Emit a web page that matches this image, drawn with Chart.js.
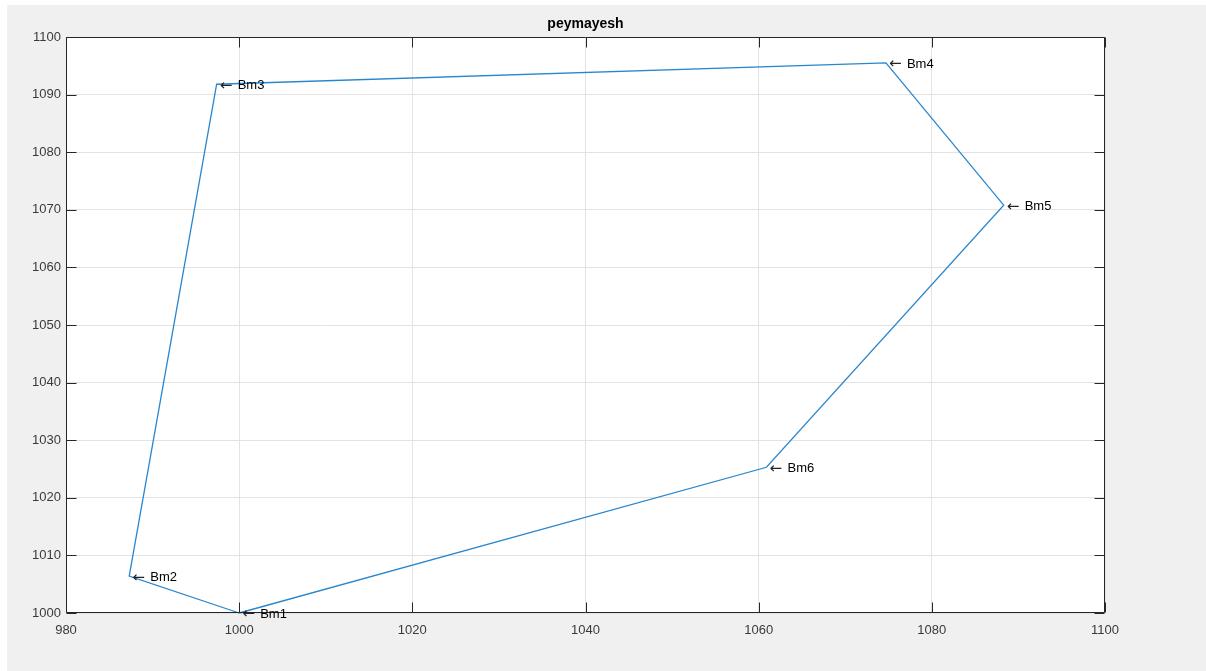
<!DOCTYPE html>
<html>
<head>
<meta charset="utf-8">
<script src="https://cdn.jsdelivr.net/npm/chart.js@4.4.1/dist/chart.umd.min.js"></script>
<style>
html,body{margin:0;padding:0;background:#fff;}
#wrap{width:1206px;height:671px;position:relative;}
</style>
</head>
<body>
<div id="wrap"><canvas id="c" width="1206" height="671"></canvas></div>
<script>
const pointNames = ['Bm1','Bm2','Bm3','Bm4','Bm5','Bm6'];
const xValues = [1000, 987.3, 997.4, 1074.7, 1088.3, 1060.9, 1000];
const yValues = [1000, 1006.4, 1091.8, 1095.5, 1070.8, 1025.3, 1000];
const xTicks = [980, 1000, 1020, 1040, 1060, 1080, 1100];
const yTicks = [1000, 1010, 1020, 1030, 1040, 1050, 1060, 1070, 1080, 1090, 1100];
const titleText = 'peymayesh';

const pts = xValues.map((x, i) => ({x: x, y: yValues[i]}));
const FONT = '"Liberation Sans", Arial, Helvetica, sans-serif';
const AXC = '#262626';
const TICKC = '#3a3a3a';

const bgPlugin = {
  id: 'bg',
  beforeDraw(chart) {
    const ctx = chart.ctx, a = chart.chartArea;
    ctx.save();
    ctx.fillStyle = '#ffffff';
    ctx.fillRect(0, 0, chart.width, chart.height);
    ctx.fillStyle = '#f0f0f0';
    ctx.fillRect(7, 5, chart.width - 7, chart.height - 5);
    ctx.fillStyle = '#ffffff';
    ctx.fillRect(a.left, a.top, a.right - a.left, a.bottom - a.top);
    ctx.restore();
  }
};

const boxPlugin = {
  id: 'box',
  afterDatasetsDraw(chart) {
    const ctx = chart.ctx, a = chart.chartArea;
    const xs = chart.scales.x, ys = chart.scales.y;
    ctx.save();
    ctx.strokeStyle = AXC;
    ctx.lineWidth = 1;
    ctx.beginPath();
    const L = Math.round(a.left) + 0.5, R = Math.round(a.right) - 0.5;
    const T = Math.round(a.top) + 0.5, B = Math.round(a.bottom) - 0.5;
    ctx.rect(L, T, R - L, B - T);
    const tl = 10;
    xTicks.forEach(v => {
      const px = Math.round(xs.getPixelForValue(v)) + 0.5;
      ctx.moveTo(px, B); ctx.lineTo(px, B - tl);
      ctx.moveTo(px, T); ctx.lineTo(px, T + tl);
    });
    yTicks.forEach(v => {
      const py = Math.round(ys.getPixelForValue(v)) + 0.5;
      ctx.moveTo(L, py); ctx.lineTo(L + tl, py);
      ctx.moveTo(R, py); ctx.lineTo(R - tl, py);
    });
    ctx.stroke();
    // point labels
    ctx.fillStyle = '#000000';
    ctx.textAlign = 'left';
    ctx.textBaseline = 'middle';
    pointNames.forEach((n, i) => {
      const px = xs.getPixelForValue(xValues[i]);
      const py = ys.getPixelForValue(yValues[i]);
      ctx.font = '15px "DejaVu Sans", sans-serif';
      ctx.fillStyle = '#222';
      ctx.fillText('\u2190', px + 3, py + 1.5);
      ctx.fillStyle = '#000';
      ctx.font = '13px ' + FONT;
      ctx.fillText(n, px + 21, py + 1.5);
    });
    ctx.restore();
  }
};

new Chart(document.getElementById('c'), {
  type: 'scatter',
  data: {
    datasets: [{
      data: pts,
      showLine: true,
      borderColor: '#2a86cc',
      borderWidth: 1.3,
      pointRadius: 0,
      pointHoverRadius: 0,
      fill: false,
      tension: 0,
      clip: false
    }]
  },
  options: {
    responsive: false,
    animation: false,
    devicePixelRatio: 1,
    layout: { padding: { left: 7, top: 5, right: 101, bottom: 28 } },
    plugins: {
      legend: { display: false },
      tooltip: { enabled: false },
      title: {
        display: true,
        text: titleText,
        fullSize: false,
        color: '#000',
        font: { family: FONT, size: 14, weight: 'bold', lineHeight: 1.2 },
        padding: { top: 11, bottom: 4.2 }
      }
    },
    scales: {
      x: {
        type: 'linear',
        min: 980, max: 1100,
        afterBuildTicks: s => { s.ticks = xTicks.map(v => ({value: v})); },
        afterFit: s => { s.height = 30; },
        grid: { color: '#e3e3e3', drawTicks: false, lineWidth: 1 },
        border: { display: false },
        ticks: { color: TICKC, padding: 10, font: { family: FONT, size: 13 }, maxRotation: 0, autoSkip: false,
                 callback: v => String(v) }
      },
      y: {
        type: 'linear',
        min: 1000, max: 1100,
        afterBuildTicks: s => { s.ticks = yTicks.map(v => ({value: v})); },
        afterFit: s => { s.width = 59; },
        grid: { color: '#e3e3e3', drawTicks: false, lineWidth: 1 },
        border: { display: false },
        ticks: { color: TICKC, padding: 5, font: { family: FONT, size: 13 }, autoSkip: false,
                 callback: v => String(v) }
      }
    }
  },
  plugins: [bgPlugin, boxPlugin]
});
</script>
</body>
</html>
